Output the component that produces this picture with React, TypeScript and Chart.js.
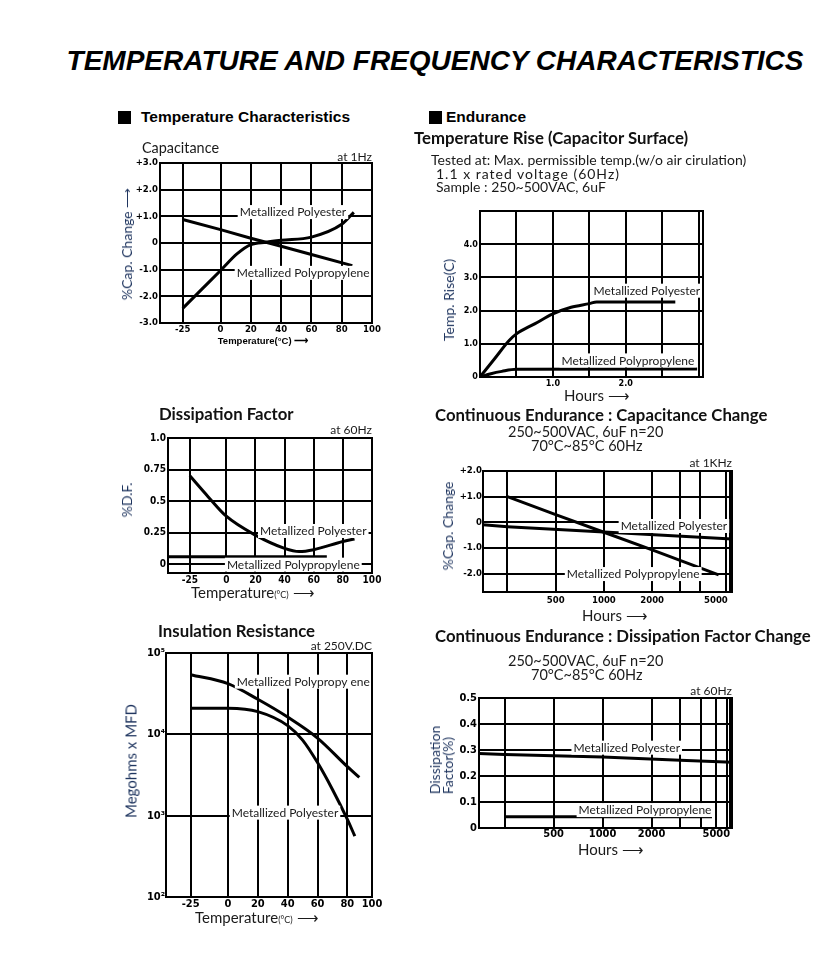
import React, { useEffect, useRef } from "react";
import { Chart, registerables } from "chart.js";

Chart.register(...registerables);

// ---------------- DATA ----------------
// Capacitance change vs temperature (%)
const capPolyesterTemp = [-25, -12.5, 0, 11, 20, 30, 40, 60, 80, 88];
const capPolyesterVal = [-2.45, -1.74, -1.03, -0.4, -0.06, 0.03, 0.1, 0.22, 0.7, 1.15];
const capPolypropTemp = [-25, 0, 20, 40, 60, 87];
const capPolypropVal = [0.88, 0.5, 0.18, -0.12, -0.43, -0.85];

// Temperature rise vs hours
const riseHoursPolyester = [0, 0.2, 0.4, 0.5, 0.75, 1.0, 1.25, 1.5, 1.6, 2.68];
const risePolyester = [0, 0.55, 1.1, 1.3, 1.6, 1.9, 2.1, 2.21, 2.26, 2.26];
const riseHoursPolyprop = [0, 0.15, 0.3, 0.5, 2.98];
const risePolyprop = [0, 0.1, 0.17, 0.23, 0.24];

// Dissipation factor vs temperature (%)
const dfPolyesterTemp = [-25, -12.5, 0, 20, 40, 50, 60, 80, 88];
const dfPolyesterVal = [0.7, 0.535, 0.38, 0.23, 0.125, 0.1, 0.115, 0.18, 0.2];
const dfPolypropTemp = [-40, 69];
const dfPolypropVal = [0.058, 0.058];

// Continuous endurance: capacitance change vs hours
const endCapHoursPolyester = [176, 250, 1000, 6300];
const endCapPolyester = [-0.1, -0.17, -0.38, -0.65];
const endCapHoursPolyprop = [250, 500, 1000, 2000, 5200];
const endCapPolyprop = [1.0, 0.3, -0.39, -1.08, -2.05];

// Insulation resistance vs temperature (Megohms x MFD)
const irPolypropTemp = [-25, 0, 20, 40, 60, 80, 88];
const irPolypropVal = [54000, 42000, 27000, 16300, 9000, 4000, 2950];
const irPolyesterTemp = [-25, 0, 20, 40, 50, 60, 70, 80, 85];
const irPolyesterVal = [21000, 20900, 19000, 12800, 8500, 4500, 2100, 900, 560];

// Continuous endurance: dissipation factor vs hours
const endDfHoursPolyester = [174, 250, 1000, 3000, 6240];
const endDfPolyester = [0.287, 0.283, 0.273, 0.261, 0.253];
const endDfHoursPolyprop = [250, 4700];
const endDfPolyprop = [0.043, 0.043];

// Ticks
const tempTicks = [-25, 0, 20, 40, 60, 80, 100];
const tempTickLabels = ["-25", "0", "20", "40", "60", "80", "100"];
const irTempTicks = [-25, 0, 20, 40, 60, 80, 96.5];
const capTicks = [-3, -2, -1, 0, 1, 2, 3];
const capTickLabels = ["-3.0", "-2.0", "-1.0", "0", "+1.0", "+2.0", "+3.0"];
const riseHourTicks = [0.5, 1, 1.5, 2, 2.5, 3];
const riseHourLabels = ["", "1.0", "", "2.0", "", ""];
const riseTicks = [0, 1, 2, 3, 4, 5];
const riseTickLabels = ["0", "1.0", "2.0", "3.0", "4.0", ""];
const dfTicks = [0, 0.25, 0.5, 0.75, 1.0];
const dfTickLabels = ["0", "0.25", "0.5", "0.75", "1.0"];
const endCapTicks = [-2, -1, 0, 1, 2];
const endCapTickLabels = ["-2.0", "-1.0", "0", "+1.0", "+2.0"];
const hourTicksCap = [250, 500, 1000, 2000, 3000, 4000, 5000, 5800, 6100];
const hourTicksDf = [250, 500, 1000, 2000, 3000, 4000, 5000, 5800, 6050];
const hourTickLabels = ["", "500", "1000", "2000", "", "", "5000", "", ""];
const irTicks = [100, 1000, 10000, 100000];
const irTickLabels = ["10²", "10³", "10⁴", "10⁵"];
const endDfTicks = [0, 0.1, 0.2, 0.3, 0.4, 0.5];
const endDfTickLabels = ["0", "0.1", "0.2", "0.3", "0.4", "0.5"];

// ---------------- HELPERS ----------------
const TICK_FONT = "'Liberation Sans Narrow', 'DejaVu Sans Condensed', 'Arial Narrow', sans-serif";
const LATO = "Lato, 'Open Sans', sans-serif";
const NAVY = "#1f355f";

const pts = (xs: number[], ys: number[]) => xs.map((x, i) => ({ x, y: ys[i] }));

const curveLabelPlugin = {
  id: "curveLabels",
  afterDatasetsDraw(chart: any, _args: any, opts: any) {
    const items = (opts && opts.items) || [];
    const ctx = chart.ctx;
    const xs = chart.scales.x;
    const ys = chart.scales.y;
    ctx.save();
    ctx.font = "12px " + LATO;
    ctx.textAlign = "center";
    ctx.textBaseline = "middle";
    for (const it of items) {
      const px = xs.getPixelForValue(it.x);
      const py = ys.getPixelForValue(it.y);
      const w = ctx.measureText(it.text).width;
      ctx.fillStyle = "#fff";
      ctx.fillRect(px - w / 2 - 2, py - 7, w + 4, 14);
      ctx.fillStyle = "#1a1a1a";
      ctx.fillText(it.text, px, py + 0.5);
    }
    ctx.restore();
  },
  afterDraw(chart: any) {
    const { left, top, right, bottom } = chart.chartArea;
    const ctx = chart.ctx;
    ctx.save();
    ctx.lineWidth = 2;
    ctx.strokeStyle = "#000";
    ctx.strokeRect(Math.round(left), Math.round(top), Math.round(right - left), Math.round(bottom - top));
    ctx.restore();
  },
};
Chart.register(curveLabelPlugin as any);

function axis(
  type: string,
  min: number,
  max: number,
  ticks: number[],
  labels: string[],
  fontSize: number,
  pad: number,
  gridColor?: any
) {
  return {
    type,
    min,
    max,
    bounds: "data",
    afterBuildTicks: (a: any) => {
      a.ticks = ticks.map((v) => ({ value: v }));
    },
    ticks: {
      autoSkip: false,
      maxRotation: 0,
      minRotation: 0,
      padding: pad,
      color: "#000",
      font: { family: TICK_FONT, size: fontSize, weight: "bold" },
      callback: (_v: any, i: number) => labels[i],
    },
    grid: { color: gridColor || "#000", lineWidth: 2, drawTicks: false },
    border: { display: false },
  };
}

type DS = { data: { x: number; y: number }[]; smooth?: boolean };

function makeCfg(datasets: DS[], x: any, y: any, labels: any[]) {
  return (padL: number, padT: number, padR: number, padB: number) => ({
    type: "line",
    data: {
      datasets: datasets.map((d) => ({
        data: d.data,
        borderColor: "#000",
        borderWidth: 3,
        pointRadius: 0,
        fill: false,
        tension: d.smooth ? 0.4 : 0,
        cubicInterpolationMode: d.smooth ? "monotone" : "default",
      })),
    },
    options: {
      responsive: false,
      animation: false,
      events: [],
      layout: { padding: { left: 0, top: padT, right: padR, bottom: 0 } },
      plugins: {
        legend: { display: false },
        tooltip: { enabled: false },
        curveLabels: { items: labels },
      },
      scales: {
        x: { ...x, afterFit: (s: any) => { s.height = padB; } },
        y: { ...y, afterFit: (s: any) => { s.width = padL; } },
      },
    },
  });
}

function Panel({ L, T, R, B, cfg }: { L: number; T: number; R: number; B: number; cfg: any }) {
  const ref = useRef<HTMLCanvasElement>(null);
  const padL = 42, padT = 10, padR = 14, padB = 20;
  const w = R - L + padL + padR;
  const h = B - T + padT + padB;
  useEffect(() => {
    const c = new Chart(ref.current as HTMLCanvasElement, cfg(padL, padT, padR, padB));
    return () => c.destroy();
  }, []);
  return (
    <canvas
      ref={ref}
      width={w}
      height={h}
      style={{ position: "absolute", left: L - padL, top: T - padT, width: w, height: h }}
    />
  );
}

function Txt({ x, y, a = "l", s, children }: any) {
  const tr =
    a === "c"
      ? "translate(-50%,-50%)"
      : a === "r"
      ? "translate(-100%,-50%)"
      : a === "rot"
      ? "translate(-50%,-50%) rotate(-90deg)"
      : "translateY(-50%)";
  return (
    <div
      style={{
        position: "absolute",
        left: x,
        top: y,
        transform: tr,
        whiteSpace: "nowrap",
        lineHeight: 1,
        fontFamily: LATO,
        color: "#1a1a1a",
        ...s,
      }}
    >
      {children}
    </div>
  );
}

// ---------------- CONFIGS ----------------
const cfgCap = makeCfg(
  [
    { data: pts(capPolyesterTemp, capPolyesterVal), smooth: true },
    { data: pts(capPolypropTemp, capPolypropVal) },
  ],
  axis("linear", -40, 100, tempTicks, tempTickLabels, 9.5, 1),
  axis("linear", -3, 3, capTicks, capTickLabels, 9.5, 2),
  [
    { text: "Metallized Polyester", x: 47.8, y: 1.16 },
    { text: "Metallized Polypropylene", x: 54.5, y: -1.12 },
  ]
);

const cfgRise = makeCfg(
  [
    { data: pts(riseHoursPolyester, risePolyester), smooth: true },
    { data: pts(riseHoursPolyprop, risePolyprop), smooth: true },
  ],
  axis("linear", 0, 3.06, riseHourTicks, riseHourLabels, 9, 1),
  axis("linear", 0, 5, riseTicks, riseTickLabels, 9, 2),
  [
    { text: "Metallized Polyester", x: 2.29, y: 2.6 },
    { text: "Metallized Polypropylene", x: 2.03, y: 0.5 },
  ]
);

const cfgDf = makeCfg(
  [
    { data: pts(dfPolyesterTemp, dfPolyesterVal), smooth: true },
    { data: pts(dfPolypropTemp, dfPolypropVal) },
  ],
  axis("linear", -40, 100, tempTicks, tempTickLabels, 10, 1),
  axis("linear", -0.07, 1.0, dfTicks, dfTickLabels, 10, 2),
  [
    { text: "Metallized Polyester", x: 59.7, y: 0.263 },
    { text: "Metallized Polypropylene", x: 46, y: -0.004 },
  ]
);

const cfgEndCap = makeCfg(
  [
    { data: pts(endCapHoursPolyester, endCapPolyester) },
    { data: pts(endCapHoursPolyprop, endCapPolyprop) },
  ],
  axis("logarithmic", 176, 6300, hourTicksCap, hourTickLabels, 9.5, 3, (ctx: any) =>
    ctx.tick && ctx.tick.value === 5000 ? "rgba(0,0,0,0)" : "#000"
  ),
  axis("linear", -2.72, 2.0, endCapTicks, endCapTickLabels, 9.5, 1),
  [
    { text: "Metallized Polyester", x: 2735, y: -0.145 },
    { text: "Metallized Polypropylene", x: 1524, y: -2.02 },
  ]
);

const cfgIr = makeCfg(
  [
    { data: pts(irPolypropTemp, irPolypropVal), smooth: true },
    { data: pts(irPolyesterTemp, irPolyesterVal), smooth: true },
  ],
  axis("linear", -41.5, 96.5, irTempTicks, tempTickLabels, 11, 1),
  axis("logarithmic", 100, 100000, irTicks, irTickLabels, 11, 1),
  [
    { text: "Metallized Polypropy ene", x: 50.5, y: 44400 },
    { text: "Metallized Polyester", x: 38.2, y: 1090 },
  ]
);

const cfgEndDf = makeCfg(
  [
    { data: pts(endDfHoursPolyester, endDfPolyester) },
    { data: pts(endDfHoursPolyprop, endDfPolyprop) },
  ],
  axis("logarithmic", 174, 6240, hourTicksDf, hourTickLabels, 11, 0),
  axis("linear", 0, 0.5, endDfTicks, endDfTickLabels, 11, 2),
  [
    { text: "Metallized Polyester", x: 1407, y: 0.309 },
    { text: "Metallized Polypropylene", x: 1823, y: 0.069 },
  ]
);

// ---------------- APP ----------------
export default function App() {
  const sub = { fontSize: 14.5 };
  const ttl = { fontSize: 16.75, fontWeight: 700, color: "#111" };
  const atS = { fontSize: 12 };
  const yT = { fontSize: 14, color: NAVY };
  const info = { fontSize: 14 };
  const arrow = " ⟶";
  return (
    <div
      style={{
        position: "absolute",
        left: 0,
        top: 0,
        width: 816,
        height: 968,
        background: "#fff",
        overflow: "hidden",
      }}
    >
      <Txt x={435} y={60.5} a="c" s={{ fontFamily: "'Liberation Sans', Arial, sans-serif", fontWeight: 700, fontStyle: "italic", fontSize: 28, color: "#000" }}>
        TEMPERATURE AND FREQUENCY CHARACTERISTICS
      </Txt>

      <div style={{ position: "absolute", left: 118, top: 111, width: 12.5, height: 12.5, background: "#000" }} />
      <Txt x={141} y={117} s={{ fontFamily: "'Liberation Sans', Arial, sans-serif", fontWeight: 700, fontSize: 15.5, color: "#000" }}>
        Temperature Characteristics
      </Txt>
      <div style={{ position: "absolute", left: 429, top: 111, width: 12.5, height: 12.5, background: "#000" }} />
      <Txt x={446} y={117} s={{ fontFamily: "'Liberation Sans', Arial, sans-serif", fontWeight: 700, fontSize: 15.5, color: "#000" }}>
        Endurance
      </Txt>

      {/* Panel 1: Capacitance */}
      <Panel L={160} T={163} R={372} B={323} cfg={cfgCap} />
      <Txt x={142} y={148} s={{ fontSize: 14.4 }}>Capacitance</Txt>
      <Txt x={372} y={156.5} a="r" s={atS}>at 1Hz</Txt>
      <Txt x={127} y={244} a="rot" s={yT}>%Cap. Change{arrow}</Txt>
      <Txt x={263} y={340.5} a="c" s={{ fontFamily: "'Liberation Sans', Arial, sans-serif", fontWeight: 700, fontSize: 9.5, color: "#000" }}>
        Temperature(°C){arrow}
      </Txt>

      {/* Panel 2: Temperature Rise */}
      <Txt x={414} y={138} s={ttl}>Temperature Rise (Capacitor Surface)</Txt>
      <Txt x={431} y={160} s={info}>Tested at: Max. permissible temp.(w/o air cirulation)</Txt>
      <Txt x={436} y={173.5} s={{ ...info, letterSpacing: 1 }}>1.1 x rated voltage (60Hz)</Txt>
      <Txt x={436} y={187} s={info}>Sample : 250~500VAC, 6uF</Txt>
      <Panel L={480} T={211} R={703} B={377} cfg={cfgRise} />
      <Txt x={449} y={300} a="rot" s={yT}>Temp. Rise(C)</Txt>
      <Txt x={564} y={395} s={{ fontSize: 15 }}>Hours{arrow}</Txt>

      {/* Panel 3: Dissipation Factor */}
      <Txt x={159} y={414} s={{ fontSize: 16.75, fontWeight: 700, color: "#111" }}>Dissipation Factor</Txt>
      <Txt x={372} y={430} a="r" s={atS}>at 60Hz</Txt>
      <Panel L={168} T={438} R={372} B={573} cfg={cfgDf} />
      <Txt x={127} y={500} a="rot" s={yT}>%D.F.</Txt>
      <Txt x={191} y={592} s={{ fontSize: 15 }}>
        Temperature<span style={{ fontSize: 9 }}>(°C)</span>{arrow}
      </Txt>

      {/* Panel 4: Continuous Endurance Capacitance Change */}
      <Txt x={435} y={415} s={ttl}>Continuous Endurance : Capacitance Change</Txt>
      <Txt x={508} y={432} s={sub}>250~500VAC, 6uF n=20</Txt>
      <Txt x={531} y={446} s={sub}>70°C~85°C 60Hz</Txt>
      <Txt x={732} y={462.5} a="r" s={atS}>at 1KHz</Txt>
      <Panel L={483} T={471} R={732} B={592} cfg={cfgEndCap} />
      <Txt x={448} y={526} a="rot" s={yT}>%Cap. Change</Txt>
      <Txt x={582} y={615} s={{ fontSize: 15 }}>Hours{arrow}</Txt>

      {/* Panel 5: Insulation Resistance */}
      <Txt x={158} y={631} s={{ fontSize: 16.8, fontWeight: 700, color: "#111" }}>Insulation Resistance</Txt>
      <Txt x={372} y={646} a="r" s={atS}>at 250V.DC</Txt>
      <Panel L={166} T={653} R={372} B={897} cfg={cfgIr} />
      <Txt x={131} y={761} a="rot" s={{ ...yT, fontSize: 15 }}>Megohms x MFD</Txt>
      <Txt x={195} y={917} s={{ fontSize: 15 }}>
        Temperature<span style={{ fontSize: 9 }}>(°C)</span>{arrow}
      </Txt>

      {/* Panel 6: Continuous Endurance Dissipation Factor Change */}
      <Txt x={435} y={636} s={ttl}>Continuous Endurance : Dissipation Factor Change</Txt>
      <Txt x={508} y={661} s={sub}>250~500VAC, 6uF n=20</Txt>
      <Txt x={531} y={675} s={sub}>70°C~85°C 60Hz</Txt>
      <Txt x={732} y={691} a="r" s={atS}>at 60Hz</Txt>
      <Panel L={479} T={698} R={732} B={828} cfg={cfgEndDf} />
      <Txt x={441} y={760} a="rot" s={{ ...yT, lineHeight: "13px", textAlign: "left" }}>
        Dissipation
        <br />
        Factor(%)
      </Txt>
      <Txt x={578} y={849} s={{ fontSize: 15 }}>Hours{arrow}</Txt>
    </div>
  );
}
